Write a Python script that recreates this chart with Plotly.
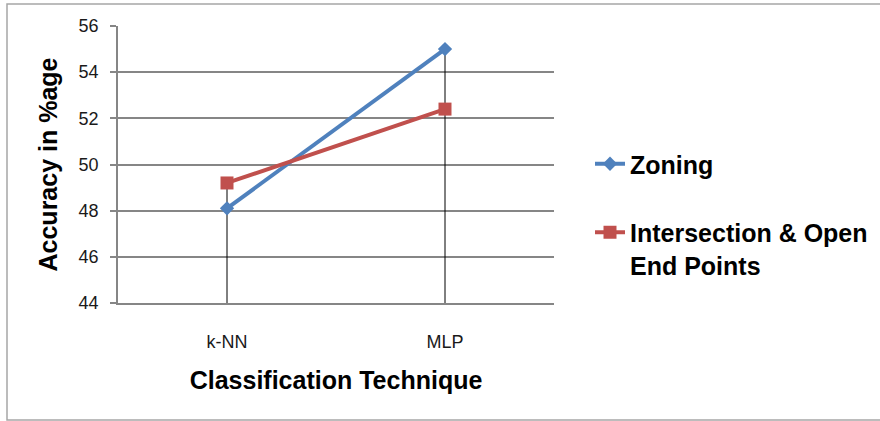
import plotly.graph_objects as go

categories = ["k-NN", "MLP"]
zoning = [48.1, 55.0]
intersection = [49.2, 52.4]
y_ticks = [44, 46, 48, 50, 52, 54, 56]

series_names = ["Zoning", "Intersection & Open<br>End Points"]
colors = ["#4F81BD", "#C0504D"]

W, H = 880, 421
L, R, T, B = 118, 326, 26, 118
pw, ph = W - L - R, H - T - B


def px_x(p):
    return (p - L) / pw


def px_y(p):
    return (H - B - p) / ph


fig = go.Figure()

# drop lines (from highest value at each category down to the axis)
drop_x, drop_y = [], []
for i, c in enumerate(categories):
    top = max(zoning[i], intersection[i])
    drop_x += [c, c, None]
    drop_y += [top, y_ticks[0], None]
fig.add_trace(go.Scatter(x=drop_x, y=drop_y, mode="lines",
                         line=dict(color="black", width=1),
                         showlegend=False, hoverinfo="skip"))

fig.add_trace(go.Scatter(x=categories, y=zoning, name=series_names[0],
                         mode="lines+markers", legendgroup="a",
                         line=dict(color=colors[0], width=4),
                         marker=dict(symbol="diamond", size=11, color=colors[0])))
fig.add_trace(go.Scatter(x=categories, y=intersection, name=series_names[1],
                         mode="lines+markers", legendgroup="b",
                         line=dict(color=colors[1], width=4),
                         marker=dict(symbol="square", size=13, color=colors[1])))

fig.update_layout(
    width=W, height=H,
    margin=dict(l=L, r=R, t=T, b=B, autoexpand=False),
    paper_bgcolor="white", plot_bgcolor="white",
    font=dict(family="Liberation Sans, Arial, sans-serif", color="#222"),
    legend=dict(x=px_x(590), y=px_y(141), xanchor="left", yanchor="top",
                font=dict(size=25, color="black", family="Liberation Sans, Arial, sans-serif",
                          weight="bold"),
                tracegroupgap=33, valign="top", bgcolor="rgba(0,0,0,0)",
                itemwidth=30),
    shapes=[dict(type="rect", xref="paper", yref="paper",
                 x0=px_x(7), x1=px_x(895), y0=px_y(420), y1=px_y(4),
                 line=dict(color="#A6A6A6", width=1.5), layer="below")],
)

fig.update_xaxes(
    type="category", range=[-0.5, 1.5],
    showgrid=False, showline=True, linecolor="#868686", linewidth=1.5,
    ticks="", ticklabelstandoff=22,
    tickfont=dict(size=18, color="#1a1a1a"),
    title=dict(text="<b>Classification Technique</b>", standoff=20,
               font=dict(size=25, color="black")),
    zeroline=False,
)
fig.update_yaxes(
    range=[44, 56], tickvals=y_ticks,
    showgrid=True, gridcolor="#868686", gridwidth=1.5,
    showline=True, linecolor="#868686", linewidth=1.5,
    ticks="outside", ticklen=6, tickcolor="#868686", tickwidth=1.5,
    ticklabelstandoff=8,
    tickfont=dict(size=18, color="#1a1a1a"),
    title=dict(text="<b>Accuracy in %age</b>", standoff=14,
               font=dict(size=25, color="black")),
    zeroline=False,
)

fig.write_html("out.html")
